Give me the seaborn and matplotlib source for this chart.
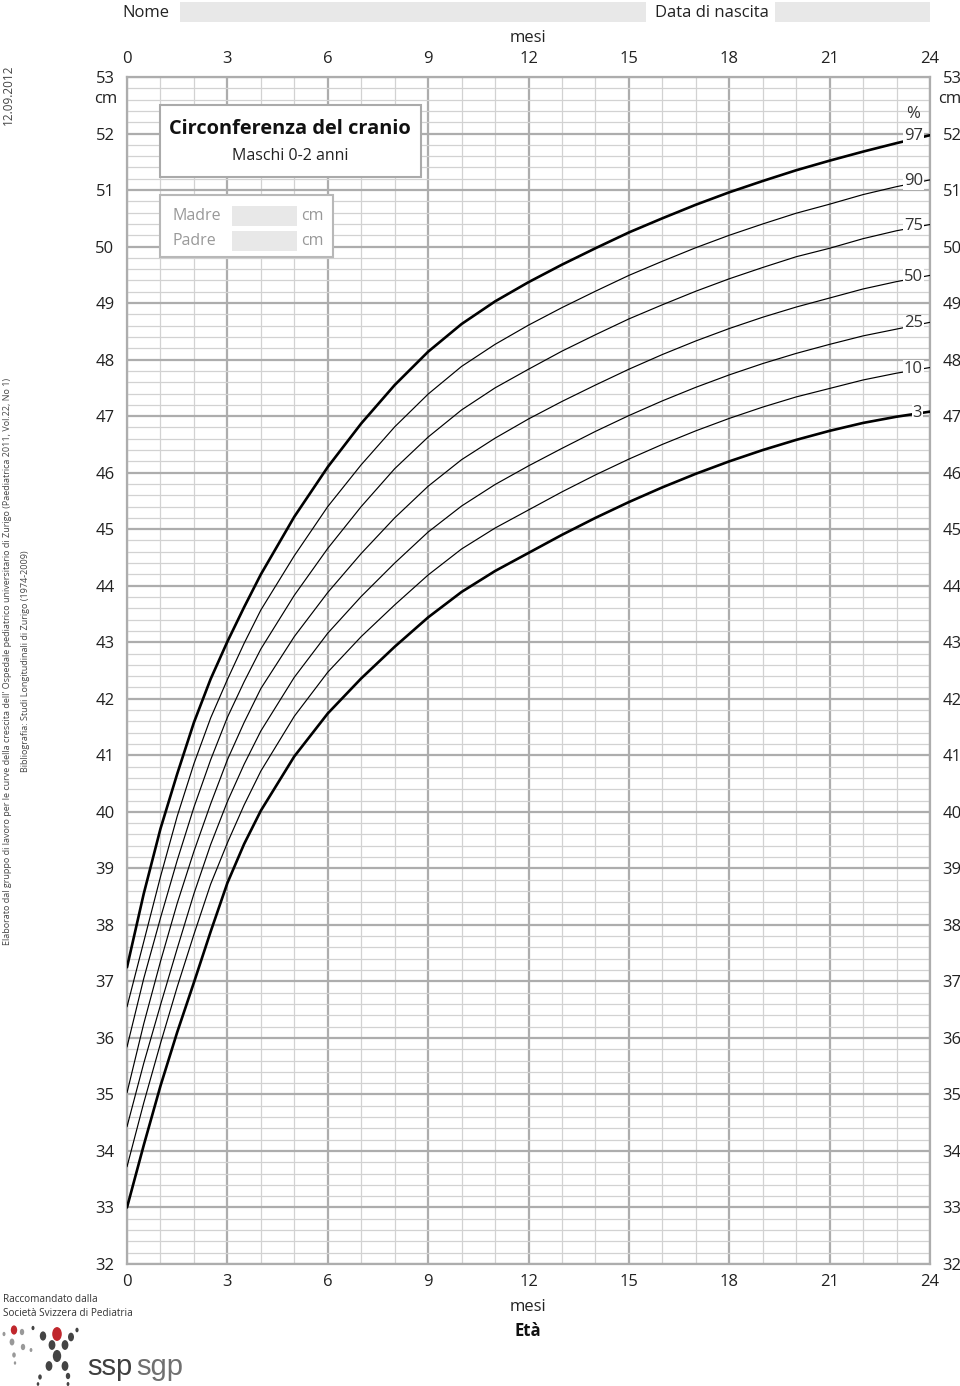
import numpy as np
import pandas as pd
import matplotlib
matplotlib.use("Agg")
import matplotlib.pyplot as plt
import seaborn as sns
from matplotlib.patches import Rectangle, Circle

# ---------------- data ----------------
months = [0, 0.5, 1, 1.5, 2, 2.5, 3, 3.5, 4, 5, 6, 7, 8, 9, 10, 11, 12,
          13, 14, 15, 16, 17, 18, 19, 20, 21, 22, 23, 24]
p97 = [37.25, 38.55, 39.70, 40.67, 41.58, 42.35, 43.01, 43.62, 44.20, 45.22, 46.10, 46.87, 47.55,
       48.14, 48.63, 49.03, 49.37, 49.68, 49.97, 50.25, 50.50, 50.74, 50.96, 51.16, 51.35,
       51.52, 51.68, 51.83, 51.97]
p90 = [36.55, 37.70, 38.85, 39.92, 40.85, 41.66, 42.34, 42.98, 43.57, 44.53, 45.40, 46.14, 46.81,
       47.39, 47.88, 48.27, 48.61, 48.92, 49.21, 49.49, 49.74, 49.98, 50.20, 50.40, 50.59,
       50.75, 50.92, 51.06, 51.18]
p75 = [35.84, 37.05, 38.12, 39.14, 40.08, 40.92, 41.67, 42.30, 42.88, 43.83, 44.66, 45.40, 46.07,
       46.63, 47.11, 47.50, 47.83, 48.15, 48.44, 48.72, 48.97, 49.21, 49.43, 49.63, 49.82,
       49.97, 50.14, 50.28, 50.39]
p50 = [35.03, 36.25, 37.35, 38.38, 39.30, 40.14, 40.92, 41.58, 42.18, 43.10, 43.88, 44.57, 45.20,
       45.76, 46.23, 46.61, 46.95, 47.26, 47.55, 47.83, 48.09, 48.33, 48.55, 48.75, 48.93,
       49.09, 49.25, 49.38, 49.49]
p25 = [34.43, 35.55, 36.58, 37.58, 38.55, 39.42, 40.18, 40.84, 41.43, 42.38, 43.16, 43.81, 44.40,
       44.95, 45.41, 45.79, 46.12, 46.43, 46.73, 47.01, 47.27, 47.51, 47.73, 47.93, 48.11,
       48.27, 48.42, 48.54, 48.66]
p10 = [33.72, 34.85, 35.90, 36.90, 37.83, 38.72, 39.45, 40.12, 40.72, 41.69, 42.47, 43.10, 43.66,
       44.19, 44.65, 45.02, 45.34, 45.66, 45.96, 46.24, 46.50, 46.74, 46.96, 47.16, 47.34,
       47.49, 47.64, 47.76, 47.86]
p3 = [33.00, 34.10, 35.15, 36.10, 36.98, 37.88, 38.74, 39.43, 40.02, 40.98, 41.74, 42.36, 42.92,
      43.44, 43.89, 44.26, 44.58, 44.90, 45.20, 45.48, 45.74, 45.98, 46.20, 46.40, 46.58,
      46.74, 46.88, 46.99, 47.08]

percentile_names = ["97", "90", "75", "50", "25", "10", "3"]
series = [p97, p90, p75, p50, p25, p10, p3]
x_tick_labels = ["0", "3", "6", "9", "12", "15", "18", "21", "24"]
y_tick_values = list(range(32, 54))

# ---------------- figure ----------------
sns.set_theme(style="white")
plt.rcParams["font.family"] = ["Open Sans", "DejaVu Sans"]

W, H = 960, 1386
fig = plt.figure(figsize=(W / 100, H / 100), dpi=100)
L, R, T, B = 127, 930, 77, 1264
ax = fig.add_axes([L / W, 1 - B / H, (R - L) / W, (B - T) / H])

def fx(x):
    return x / W

def fy(y):
    return 1 - y / H

major_c = "#adadad"
minor_c = "#d2d2d2"
txt_c = "#222222"
fs = 12

# grid
ax.set_xlim(0, 24)
ax.set_ylim(32, 53)
ax.set_xticks(np.arange(0, 25, 3))
ax.set_xticks(np.arange(0, 25, 1), minor=True)
ax.set_yticks(y_tick_values)
ax.set_yticks(np.arange(32, 53.01, 0.2), minor=True)
ax.grid(which="minor", color=minor_c, lw=0.9, zorder=0)
ax.grid(which="major", color=major_c, lw=1.6, zorder=0)
ax.set_axisbelow(True)
for s in ax.spines.values():
    s.set_color(major_c)
    s.set_linewidth(1.6)

# curves
for name, vals in zip(percentile_names, series):
    df = pd.DataFrame({"mesi": months, "cm": vals})
    thick = name in ("97", "3")
    sns.lineplot(data=df, x="mesi", y="cm", ax=ax, color="black",
                 lw=1.9 if thick else 0.85, zorder=3)
    xlab = 23.62 if name == "3" else 23.5
    ax.text(xlab, vals[-1] - 0.02, name, ha="center", va="center", fontsize=12,
            color="#333333", zorder=4,
            bbox=dict(boxstyle="square,pad=0.05", fc="white", ec="none"))
ax.text(23.5, 52.35, "%", ha="center", va="center", fontsize=12, color="#333333")

# tick labels
ax.set_xlabel("")
ax.set_ylabel("")
ax.set_xticklabels(x_tick_labels)
ax.set_yticklabels([str(v) for v in y_tick_values])
ax.tick_params(axis="both", which="both", length=0, labelsize=fs, colors=txt_c)
ax.tick_params(axis="x", labeltop=True, labelbottom=True, pad=7)
ax.tick_params(axis="y", labelleft=True, labelright=True, pad=9)

# cm units under 53
fig.text(fx(117), fy(99), "cm", ha="right", va="center", fontsize=fs, color=txt_c)
fig.text(fx(938), fy(99), "cm", ha="left", va="center", fontsize=fs, color=txt_c)

# axis titles
fig.text(fx(528), fy(38), "mesi", ha="center", va="center", fontsize=fs, color=txt_c)
fig.text(fx(528), fy(1307), "mesi", ha="center", va="center", fontsize=fs, color=txt_c)
fig.text(fx(528), fy(1331), "Età", ha="center", va="center", fontsize=fs,
         fontweight="bold", color="#111111")

# header
fig.text(fx(146), fy(13), "Nome", ha="center", va="center", fontsize=fs, color=txt_c)
fig.add_artist(Rectangle((fx(180), fy(22)), (646 - 180) / W, 20 / H,
                         transform=fig.transFigure, fc="#e8e8e8", ec="none"))
fig.text(fx(712), fy(13), "Data di nascita", ha="center", va="center", fontsize=fs,
         color=txt_c)
fig.add_artist(Rectangle((fx(775), fy(22)), (930 - 775) / W, 20 / H,
                         transform=fig.transFigure, fc="#e8e8e8", ec="none"))

# title box
fig.add_artist(Rectangle((fx(160), fy(177)), (421 - 160) / W, (177 - 105) / H,
                         transform=fig.transFigure, fc="white", ec="#aaaaaa", lw=1.5,
                         zorder=5))
fig.text(fx(290), fy(129), "Circonferenza del cranio", ha="center", va="center",
         fontsize=14.4, fontweight="bold", color="#111111", zorder=6)
fig.text(fx(290), fy(156), "Maschi 0-2 anni", ha="center", va="center",
         fontsize=11.5, color=txt_c, zorder=6)

# parents box
fig.add_artist(Rectangle((fx(160), fy(257)), (333 - 160) / W, (257 - 195) / H,
                         transform=fig.transFigure, fc="white", ec="#b8b8b8", lw=1.5,
                         zorder=5))
for label, yc in (("Madre", 216), ("Padre", 241)):
    fig.text(fx(172), fy(yc), label, ha="left", va="center", fontsize=11.5,
             color="#999999", zorder=6)
    fig.add_artist(Rectangle((fx(232), fy(yc + 10)), (297 - 232) / W, 20 / H,
                             transform=fig.transFigure, fc="#e8e8e8", ec="none", zorder=6))
    fig.text(fx(301), fy(yc), "cm", ha="left", va="center", fontsize=11.5,
             color="#999999", zorder=6)

# side notes
fig.text(fx(8), fy(95), "12.09.2012", rotation=90, ha="center", va="center",
         fontsize=8.5, color="#444444")
fig.text(fx(8), fy(945), "Elaborato dal gruppo di lavoro per le curve della crescita dell' "
         "Ospedale pediatrico universitario di Zurigo (Paediatrica 2011, Vol.22, No 1)",
         rotation=90, ha="center", va="bottom", fontsize=6.5, color="#444444")
fig.text(fx(26), fy(772), "Bibliografia: Studi Longitudinali di Zurigo (1974-2009)",
         rotation=90, ha="center", va="bottom", fontsize=6.5, color="#444444")

# recommendation + logo
fig.text(fx(3), fy(1300), "Raccomandato dalla", ha="left", va="center", fontsize=7.2,
         color="#333333")
fig.text(fx(3), fy(1314), "Società Svizzera di Pediatria", ha="left", va="center",
         fontsize=7.2, color="#333333")
dots = [(4, 1334, 1.5, "#999999"), (14, 1330, 3.2, "#c0272d"), (22, 1332, 2.2, "#999999"),
        (33, 1328, 1.5, "#444444"), (43, 1336, 3.2, "#444444"), (57, 1334, 4.8, "#c0272d"),
        (71, 1337, 3.0, "#444444"), (77, 1330, 1.6, "#444444"), (12, 1342, 2.4, "#999999"),
        (23, 1347, 2.2, "#999999"), (31, 1350, 1.4, "#999999"), (14, 1355, 1.8, "#999999"),
        (15, 1363, 1.2, "#999999"), (52, 1345, 3.4, "#444444"), (65, 1345, 3.4, "#444444"),
        (57, 1356, 4.2, "#444444"), (49, 1366, 3.4, "#444444"), (65, 1366, 3.4, "#444444"),
        (40, 1377, 1.8, "#444444"), (68, 1376, 2.2, "#444444"), (38, 1384, 1.3, "#444444"),
        (68, 1384, 1.4, "#444444")]
for (x, y, r, c) in dots:
    fig.add_artist(Circle((fx(x), fy(y)), r / W, transform=fig.transFigure, fc=c, ec="none"))
fig.text(fx(87), fy(1367), "ssp", ha="left", va="center", fontsize=21,
         color="#3f3f3f", family=["Liberation Sans", "DejaVu Sans"])
fig.text(fx(136), fy(1367), "sgp", ha="left", va="center", fontsize=21,
         color="#707070", family=["Liberation Sans", "DejaVu Sans"])

fig.savefig("out.png", dpi=100, facecolor="white")
